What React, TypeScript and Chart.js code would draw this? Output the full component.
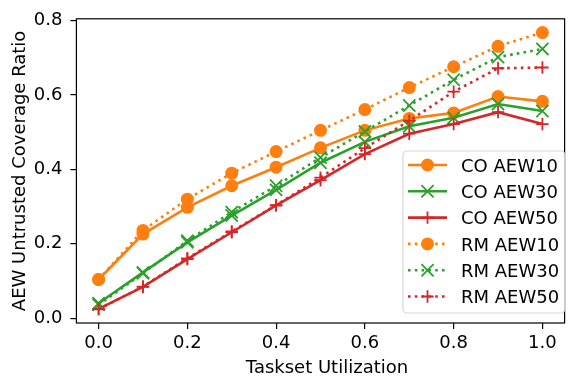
import React, { useEffect, useRef } from 'react';
import { Chart, registerables } from 'chart.js';

Chart.register(...registerables);

// ---- data ----
const utilization = [0, 0.1, 0.2, 0.3, 0.4, 0.5, 0.6, 0.7, 0.8, 0.9, 1.0];
const coAew10 = [0.104, 0.226, 0.298, 0.356, 0.406, 0.458, 0.505, 0.537, 0.552, 0.596, 0.583];
const coAew30 = [0.040, 0.123, 0.204, 0.276, 0.345, 0.418, 0.474, 0.516, 0.539, 0.576, 0.557];
const coAew50 = [0.025, 0.084, 0.159, 0.231, 0.303, 0.371, 0.441, 0.496, 0.522, 0.554, 0.522];
const rmAew10 = [0.104, 0.236, 0.320, 0.390, 0.448, 0.505, 0.561, 0.620, 0.676, 0.731, 0.768];
const rmAew30 = [0.036, 0.121, 0.208, 0.285, 0.356, 0.432, 0.502, 0.572, 0.641, 0.702, 0.724];
const rmAew50 = [0.024, 0.085, 0.161, 0.233, 0.304, 0.378, 0.457, 0.531, 0.609, 0.672, 0.674];

const seriesLabels = ['CO AEW10', 'CO AEW30', 'CO AEW50', 'RM AEW10', 'RM AEW30', 'RM AEW50'];
const seriesValues = [coAew10, coAew30, coAew50, rmAew10, rmAew30, rmAew50];

const xTicks = [0, 0.2, 0.4, 0.6, 0.8, 1.0];
const yTicks = [0, 0.2, 0.4, 0.6, 0.8];
const xTitle = 'Taskset Utilization';
const yTitle = 'AEW Untrusted Coverage Ratio';

// ---- styles ----
const ORANGE = '#ff7f0e';
const GREEN = '#2ca02c';
const RED = '#d62728';
const seriesColors = [ORANGE, GREEN, RED, ORANGE, GREEN, RED];
const seriesMarkers = ['circle', 'crossRot', 'cross', 'circle', 'crossRot', 'cross'];
const seriesDotted = [false, false, false, true, true, true];

const FONT_FAMILY = "'DejaVu Sans', sans-serif";
const TICK_SIZE = 18;
const TITLE_SIZE = 18;
const LEGEND_SIZE = 18;
const LINE_W = 2.6;
const DOT_DASH = [2.6, 4.2];
const MARK_W = 1.8;
const CIRCLE_R = 5.6;
const CROSSROT_R = 8.6;
const CROSS_R = 6.2;

function markerRadius(m: string) {
  if (m === 'circle') return CIRCLE_R;
  if (m === 'crossRot') return CROSSROT_R;
  return CROSS_R;
}

function drawMarker(ctx: CanvasRenderingContext2D, m: string, x: number, y: number, color: string) {
  ctx.save();
  ctx.setLineDash([]);
  ctx.strokeStyle = color;
  ctx.fillStyle = color;
  ctx.lineWidth = MARK_W;
  ctx.beginPath();
  if (m === 'circle') {
    ctx.arc(x, y, CIRCLE_R, 0, Math.PI * 2);
    ctx.fill();
    ctx.stroke();
  } else if (m === 'crossRot') {
    const o = Math.cos(Math.PI / 4) * CROSSROT_R;
    ctx.moveTo(x - o, y - o);
    ctx.lineTo(x + o, y + o);
    ctx.moveTo(x - o, y + o);
    ctx.lineTo(x + o, y - o);
    ctx.stroke();
  } else {
    ctx.moveTo(x - CROSS_R, y);
    ctx.lineTo(x + CROSS_R, y);
    ctx.moveTo(x, y - CROSS_R);
    ctx.lineTo(x, y + CROSS_R);
    ctx.stroke();
  }
  ctx.restore();
}

const decorPlugin = {
  id: 'decor',
  afterDatasetsDraw(chart: any) {
    const { ctx, chartArea } = chart;
    ctx.save();
    ctx.strokeStyle = '#000';
    ctx.lineWidth = 1.2;
    ctx.setLineDash([]);
    ctx.strokeRect(chartArea.left, chartArea.top, chartArea.right - chartArea.left, chartArea.bottom - chartArea.top);
    ctx.restore();
  },
  afterDraw(chart: any) {
    const { ctx, chartArea } = chart;
    ctx.save();
    ctx.font = `${TITLE_SIZE}px ${FONT_FAMILY}`;
    ctx.fillStyle = '#000';
    // x title
    ctx.textAlign = 'center';
    ctx.textBaseline = 'alphabetic';
    ctx.fillText(xTitle, 327, 373);
    // y title
    ctx.save();
    ctx.translate(25, (chartArea.top + chartArea.bottom) / 2);
    ctx.rotate(-Math.PI / 2);
    ctx.fillText(yTitle, 0, 0);
    ctx.restore();

    // legend
    const bx = 403, by = 151, bw = 162, bh = 162, r = 4;
    ctx.beginPath();
    ctx.moveTo(bx + r, by);
    ctx.lineTo(bx + bw - r, by);
    ctx.arcTo(bx + bw, by, bx + bw, by + r, r);
    ctx.lineTo(bx + bw, by + bh - r);
    ctx.arcTo(bx + bw, by + bh, bx + bw - r, by + bh, r);
    ctx.lineTo(bx + r, by + bh);
    ctx.arcTo(bx, by + bh, bx, by + bh - r, r);
    ctx.lineTo(bx, by + r);
    ctx.arcTo(bx, by, bx + r, by, r);
    ctx.closePath();
    ctx.fillStyle = 'rgba(255,255,255,0.8)';
    ctx.fill();
    ctx.strokeStyle = 'rgba(204,204,204,0.8)';
    ctx.lineWidth = 1.2;
    ctx.stroke();

    const rowY0 = 165;
    const rowStep = 26.3;
    seriesLabels.forEach((label, i) => {
      const y = rowY0 + i * rowStep;
      ctx.save();
      ctx.strokeStyle = seriesColors[i];
      ctx.lineWidth = LINE_W;
      ctx.setLineDash(seriesDotted[i] ? DOT_DASH : []);
      ctx.beginPath();
      ctx.moveTo(408, y);
      ctx.lineTo(447, y);
      ctx.stroke();
      ctx.restore();
      drawMarker(ctx, seriesMarkers[i], 427.5, y, seriesColors[i]);
      ctx.fillStyle = '#000';
      ctx.textAlign = 'left';
      ctx.textBaseline = 'alphabetic';
      ctx.font = `${LEGEND_SIZE}px ${FONT_FAMILY}`;
      ctx.fillText(label, 461, y + 6.7);
    });
    ctx.restore();
  },
};

export default function App() {
  const canvasRef = useRef<HTMLCanvasElement | null>(null);

  useEffect(() => {
    const canvas = canvasRef.current;
    if (!canvas) return;
    const datasets = seriesLabels.map((label, i) => ({
      label,
      data: utilization.map((x, j) => ({ x, y: seriesValues[i][j] })),
      borderColor: seriesColors[i],
      backgroundColor: seriesColors[i],
      borderWidth: LINE_W,
      borderDash: seriesDotted[i] ? DOT_DASH : [],
      borderCapStyle: 'butt',
      pointStyle: seriesMarkers[i],
      pointRadius: markerRadius(seriesMarkers[i]),
      pointBorderWidth: MARK_W,
      pointBackgroundColor: seriesColors[i],
      pointBorderColor: seriesColors[i],
      tension: 0,
      fill: false,
      order: seriesLabels.length - i,
    }));

    const chart = new Chart(canvas, {
      type: 'line',
      data: { datasets } as any,
      plugins: [decorPlugin],
      options: {
        responsive: false,
        animation: false,
        devicePixelRatio: 1,
        layout: { padding: { top: 10, right: 1.4, left: 0, bottom: 0 } },
        plugins: {
          legend: { display: false },
          tooltip: { enabled: false },
        },
        scales: {
          x: {
            type: 'linear',
            min: -0.05,
            max: 1.05,
            afterFit: (s: any) => { s.height = 56; },
            afterBuildTicks: (s: any) => { s.ticks = xTicks.map((v) => ({ value: v })); },
            border: { display: false },
            grid: { display: true, drawOnChartArea: false, drawTicks: true, tickLength: 6, color: '#000', tickWidth: 1.2, lineWidth: 1.2 },
            ticks: {
              color: '#000',
              padding: 4,
              maxRotation: 0,
              font: { family: FONT_FAMILY, size: TICK_SIZE },
              callback: (v: any) => Number(v).toFixed(1),
            },
          },
          y: {
            type: 'linear',
            min: -0.013,
            max: 0.805,
            afterFit: (s: any) => { s.width = 76.4; },
            afterBuildTicks: (s: any) => { s.ticks = yTicks.map((v) => ({ value: v })); },
            border: { display: false },
            grid: { display: true, drawOnChartArea: false, drawTicks: true, tickLength: 6, color: '#000', tickWidth: 1.2, lineWidth: 1.2 },
            ticks: {
              color: '#000',
              padding: 8,
              font: { family: FONT_FAMILY, size: TICK_SIZE },
              callback: (v: any) => Number(v).toFixed(1),
            },
          },
        },
      } as any,
    });
    return () => chart.destroy();
  }, []);

  return (
    <div style={{ position: 'absolute', left: 0, top: 0, width: 571, height: 379, overflow: 'hidden', background: '#fff' }}>
      <canvas ref={canvasRef} width={575} height={379} style={{ width: 575, height: 379, display: 'block' }} />
    </div>
  );
}
